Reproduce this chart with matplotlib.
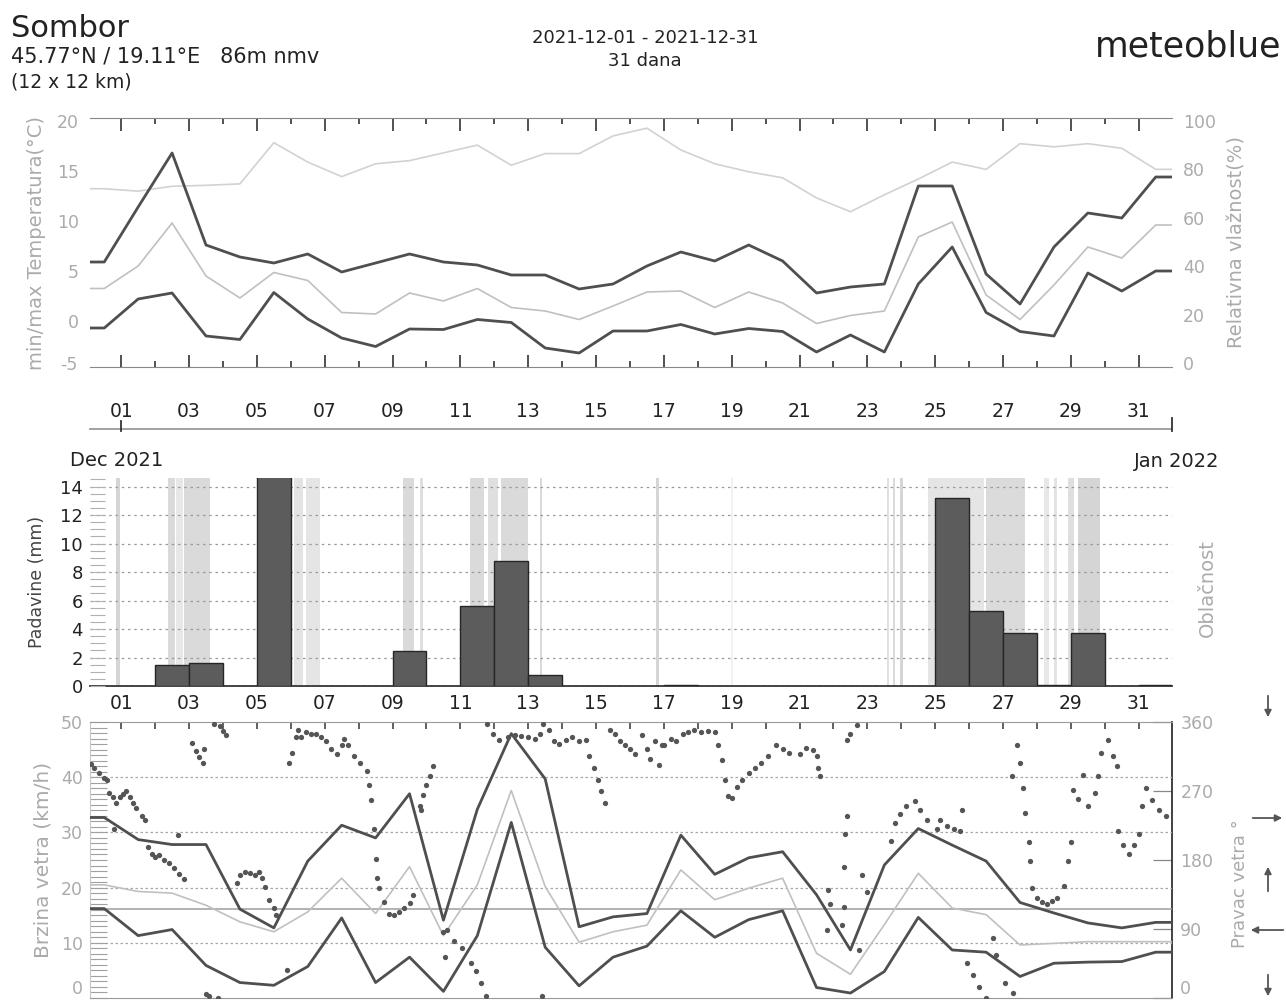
import matplotlib
matplotlib.use('Agg')
import matplotlib.pyplot as plt
import matplotlib.transforms as mtransforms
from matplotlib.lines import Line2D
from matplotlib.patches import FancyArrowPatch
from matplotlib.ticker import MultipleLocator
import numpy as np

# ---------------- data ----------------
day_labels = ['01', '03', '05', '07', '09', '11', '13', '15', '17', '19', '21', '23', '25', '27', '29', '31']
label_days = [1, 3, 5, 7, 9, 11, 13, 15, 17, 19, 21, 23, 25, 27, 29, 31]

# daily values (32 vertices, at day midpoints)
temp_max = [5.9, 11.4, 16.8, 7.6, 6.4, 5.8, 6.7, 4.9, 5.8, 6.7, 5.9, 5.6, 4.6, 4.6, 3.2, 3.7,
            5.5, 6.9, 6.0, 7.6, 6.0, 2.8, 3.4, 3.7, 13.5, 13.5, 4.7, 1.7, 7.4, 10.8, 10.3, 14.4]
temp_min = [-0.7, 2.2, 2.8, -1.5, -1.85, 2.85, 0.2, -1.7, -2.55, -0.8, -0.85, 0.15, -0.15, -2.7, -3.2, -1.0,
            -1.0, -0.35, -1.3, -0.75, -1.05, -3.1, -1.4, -3.1, 3.7, 7.4, 0.85, -1.05, -1.5, 4.8, 3.0, 5.0]
temp_mean = [3.25, 5.5, 9.8, 4.5, 2.3, 4.85, 4.05, 0.85, 0.7, 2.8, 2.0, 3.25, 1.35, 1.0, 0.15, 1.5,
             2.9, 3.0, 1.35, 2.9, 1.8, -0.25, 0.55, 1.0, 8.4, 9.9, 2.6, 0.15, 3.6, 7.4, 6.3, 9.6]
humidity = [72, 71, 73, 73.4, 74, 91, 83, 77, 82.3, 83.6, 86.8, 90, 81.7, 86.5, 86.5, 93.8,
            97, 88, 82.3, 79, 76.5, 68.2, 62.5, 69.5, 76, 83, 80, 90.6, 89.3, 90.6, 88.7, 80]

wind_max = [32.7, 28.7, 27.8, 27.8, 16.1, 12.7, 24.8, 31.3, 29.0, 37.0, 14.1, 34.2, 47.9, 39.7, 12.9, 14.7,
            15.3, 29.5, 22.4, 25.4, 26.5, 18.7, 8.7, 24.1, 30.7, 27.7, 24.8, 17.3, 15.4, 13.6, 12.7, 13.7]
wind_min = [16.2, 11.3, 12.4, 5.9, 2.8, 2.3, 5.7, 14.5, 2.8, 7.4, 1.2, 11.3, 31.8, 9.2, 2.2, 7.4,
            9.4, 15.8, 11.0, 14.2, 15.8, 1.9, 0.9, 4.8, 14.6, 8.7, 8.3, 3.9, 6.3, 6.5, 6.6, 8.3]
wind_mean = [20.5, 19.3, 19.0, 16.8, 13.8, 12.0, 15.6, 21.7, 15.3, 23.8, 11.3, 20.5, 37.6, 20.2, 10.1, 12.0,
             13.2, 23.2, 17.8, 19.9, 21.7, 8.1, 4.3, 13.3, 22.6, 16.3, 15.1, 9.6, 9.9, 10.2, 10.2, 10.2]

# precipitation (day start, mm)
precip_day = [2, 3, 5, 9, 11, 12, 13, 17, 25, 26, 27, 28, 29, 31]
precip_mm = [1.45, 1.64, 16.0, 2.44, 5.62, 8.74, 0.75, 0.08, 13.2, 5.27, 3.75, 0.1, 3.75, 0.08]

# cloud cover bands (start day, end day, intensity)
cloud_start = [0.85, 2.38, 2.62, 2.85, 5.0, 6.1, 6.45, 9.3, 9.82, 11.28, 11.8, 12.2, 13.36, 16.78, 18.98,
               23.58, 23.76, 23.95, 24.8, 26.5, 28.2, 28.5, 28.9, 29.2]
cloud_end = [0.95, 2.6, 2.82, 3.62, 6.05, 6.35, 6.86, 9.62, 9.9, 11.7, 12.1, 12.99, 13.42, 16.86, 19.04,
             23.64, 23.82, 24.05, 26.45, 27.65, 28.35, 28.6, 29.1, 29.86]
cloud_level = [0.45, 0.4, 0.25, 0.4, 0.45, 0.3, 0.28, 0.4, 0.35, 0.4, 0.35, 0.4, 0.4, 0.45, 0.15,
               0.35, 0.4, 0.45, 0.28, 0.38, 0.25, 0.3, 0.35, 0.45]

# wind direction samples (day, degrees)
dir_day = [0.1, 0.2, 0.35, 0.5, 0.58, 0.65, 0.75, 0.8, 0.85, 0.95, 1.05, 1.15, 1.25, 1.35, 1.45, 1.6, 1.7,
           1.78, 1.9, 2.0, 2.1, 2.25, 2.4, 2.55, 2.67, 2.7, 2.85,
           3.1, 3.2, 3.3, 3.4, 3.45, 3.5, 3.6, 3.75, 3.85, 3.9, 4.0, 4.1,
           4.4, 4.5, 4.65, 4.8, 4.95, 5.05, 5.15, 5.25, 5.37, 5.5, 5.57, 5.9,
           5.95, 6.05, 6.15, 6.22, 6.3, 6.45, 6.6, 6.75, 6.9, 7.05, 7.2, 7.35, 7.5, 7.56, 7.7,
           7.86, 8.05, 8.24, 8.3, 8.35, 8.44, 8.5, 8.53,
           8.6, 8.75, 8.9, 9.05, 9.2, 9.35, 9.5, 9.6,
           9.8, 9.85, 9.9, 10.0, 10.1, 10.2, 10.5, 10.55, 10.6, 10.8, 11.05,
           11.3, 11.45, 11.6, 11.75, 11.78, 11.95, 12.15,
           12.4, 12.6, 12.8, 13.0, 13.2, 13.35, 13.4, 13.45, 13.6, 13.75, 13.9, 14.1, 14.3, 14.5, 14.7,
           14.8, 14.95, 15.05, 15.15, 15.27, 15.4, 15.55, 15.7, 15.85, 16.0, 16.15,
           16.35, 16.5, 16.6, 16.75, 16.85, 16.94, 17.0, 17.2, 17.35, 17.55, 17.7, 17.9, 18.1, 18.3, 18.5,
           18.6, 18.7, 18.8, 18.9, 19.0, 19.15, 19.3, 19.5, 19.7, 19.85, 20.07,
           20.3, 20.5, 20.7, 21.0, 21.2, 21.4, 21.5, 21.55, 21.6,
           21.8, 21.85, 21.9, 22.25, 22.3, 22.3, 22.35, 22.4, 22.75, 22.85, 23.0,
           22.4, 22.5, 22.7,
           23.7, 23.8, 23.95, 24.15, 24.4, 24.55, 24.76, 25.06, 25.14, 25.35, 25.55, 25.73, 25.8,
           25.93, 26.1, 26.3, 26.5, 26.7, 26.8, 27.05, 27.3,
           27.25, 27.4, 27.5, 27.6, 27.65, 27.75, 27.8, 27.85, 28.0, 28.15, 28.3, 28.45, 28.6, 28.8, 28.9, 29.0,
           29.05, 29.2, 29.35, 29.5, 29.7, 29.8, 29.9, 30.1, 30.25, 30.35,
           30.4, 30.55, 30.7, 30.85, 31.0, 31.1, 31.2, 31.4, 31.6, 31.8]
dir_deg = [305, 300, 293, 287, 285, 268, 262, 221, 255, 262, 266, 270, 262, 255, 248, 238, 232,
           197, 188, 184, 186, 180, 176, 170, 212, 162, 155,
           333, 322, 315, 307, 325, 5, 2, 358, 0, 355, 348, 343,
           150, 160, 165, 163, 160, 164, 157, 145, 128, 118, 108, 36,
           307, 320, 340, 350, 340, 347, 345, 344, 340, 335, 325, 318, 330, 338, 330,
           316, 306, 296, 278, 258, 221, 181, 157,
           144, 125, 110, 108, 112, 118, 124, 135,
           251, 245, 265, 278, 290, 303, 86, 53, 89, 75, 65,
           46, 35, 20, 3, 358, 345, 337,
           340, 343, 342, 340, 338, 344, 3, 358, 350, 335, 331, 337, 340, 335, 337,
           316, 300, 285, 270, 254, 350, 345, 335, 330, 325, 318,
           343, 325, 312, 335, 304, 330, 330, 338, 335, 345, 347, 350, 347, 348, 347,
           330, 310, 285, 263, 261, 275, 285, 294, 300, 306, 316,
           330, 325, 320, 318, 326, 324, 316, 300, 290,
           89, 141, 122, 95, 119, 171, 214, 238, 62, 161, 138,
           337, 345, 356,
           205, 228, 240, 250, 257, 245, 232, 221, 232, 225, 220, 218, 245,
           46, 30, 15, 0, 78, 56, 20, 7,
           290, 330, 307, 274, 241, 204, 179, 144, 130, 125, 122, 126, 131, 146, 179, 204,
           271, 260, 291, 250, 267, 290, 320, 337, 316, 303,
           218, 200, 188, 200, 214, 250, 274, 258, 245, 237]

# ---------------- layout helpers ----------------
W, H = 1286, 1005
fig = plt.figure(figsize=(W / 100, H / 100), dpi=100)
fig.patch.set_facecolor('white')

XMIN, XMAX = 0.08, 31.98
DARK = '#4f4f4f'
TXT_LIGHT = '#ababab'


def rect(l, t, r, b):
    return [l / W, 1 - b / H, (r - l) / W, (b - t) / H]


def fx(x):
    return x / W


def fy(y):
    return 1 - y / H


mid = np.arange(len(temp_max)) + 0.5


def ext(vals):
    v = np.asarray(vals, dtype=float)
    return np.r_[XMIN, mid, XMAX], np.r_[v[0], v, v[-1]]


odd_days = label_days
even_days = list(range(2, 32, 2))

# ---------------- header ----------------
fig.text(fx(11), fy(37), 'Sombor', fontsize=22, color='#222222', va='baseline')
fig.text(fx(11), fy(62), '45.77°N / 19.11°E   86m nmv', fontsize=15, color='#222222', va='baseline')
fig.text(fx(11), fy(87), '(12 x 12 km)', fontsize=13.5, color='#222222', va='baseline')
fig.text(fx(645), fy(43), '2021-12-01 - 2021-12-31', fontsize=13, color='#222222', ha='center', va='baseline')
fig.text(fx(645), fy(66), '31 dana', fontsize=13, color='#222222', ha='center', va='baseline')
fig.text(fx(1281), fy(56), 'meteoblue', fontsize=25, color='#222222', ha='right', va='baseline')

# ---------------- top panel: temperature & humidity ----------------
ax1 = fig.add_axes(rect(90, 118, 1172, 367))
axh = ax1.twinx()
ax1.set_zorder(2)
ax1.patch.set_visible(False)

x, y = ext(humidity)
axh.plot(x, y, color='#d2d2d2', lw=1.2)
x, y = ext(temp_mean)
ax1.plot(x, y, color='#c0c0c0', lw=1.2)
x, y = ext(temp_max)
ax1.plot(x, y, color=DARK, lw=2.0)
x, y = ext(temp_min)
ax1.plot(x, y, color=DARK, lw=2.0)

ax1.set_xlim(XMIN, XMAX)
ax1.set_ylim(-4.6, 20.3)
axh.set_ylim(-1.6, 101.2)
ax1.set_yticks([0, 5, 10, 15, 20])
axh.set_yticks([0, 20, 40, 60, 80, 100])
ax1.tick_params(axis='y', length=0, labelsize=12.5, labelcolor=TXT_LIGHT, pad=8)
axh.tick_params(axis='y', length=0, labelsize=12.5, labelcolor=TXT_LIGHT, pad=8)
ax1.text(-0.012, -4.4, '-5', transform=mtransforms.blended_transform_factory(ax1.transAxes, ax1.transData),
         ha='right', va='center', fontsize=12.5, color=TXT_LIGHT)
ax1.set_xticks(odd_days)
ax1.set_xticklabels(day_labels)
ax1.set_xticks(even_days, minor=True)
ax1.tick_params(axis='x', which='major', direction='in', top=True, bottom=True, length=9, width=1.2,
                color='#333333', labelsize=13.5, labelcolor='#222222', pad=25)
ax1.tick_params(axis='x', which='minor', direction='in', top=True, bottom=True, length=4, width=1.2,
                color='#333333')
for a in (ax1, axh):
    a.spines['left'].set_visible(False)
    a.spines['right'].set_visible(False)
    a.spines['top'].set_color('#888888')
    a.spines['bottom'].set_color('#888888')
axh.spines['top'].set_visible(False)
axh.spines['bottom'].set_visible(False)
ax1.set_ylabel('min/max Temperatura(°C)', color=TXT_LIGHT, fontsize=14, labelpad=8)
axh.set_ylabel('Relativna vlažnost(%)', color=TXT_LIGHT, fontsize=14, labelpad=8)

# separator with ticks under the top panel
tr = mtransforms.blended_transform_factory(ax1.transData, fig.transFigure)
fig.add_artist(Line2D([XMIN, XMAX], [fy(429), fy(429)], transform=tr, color='#9a9a9a', lw=1.3))
fig.add_artist(Line2D([1, 1], [fy(421), fy(431)], transform=tr, color='#333333', lw=1.3))
fig.add_artist(Line2D([XMAX, XMAX], [fy(418), fy(431)], transform=tr, color='#333333', lw=1.3))

# ---------------- middle panel: precipitation & cloud ----------------
ax2 = fig.add_axes(rect(90, 478, 1172, 686))
for s, e, lv in zip(cloud_start, cloud_end, cloud_level):
    ax2.axvspan(s, e, color='#8c8c8c', alpha=lv * 0.8, lw=0, zorder=1)
ax2.bar(precip_day, precip_mm, width=1.0, align='edge', color='#5c5c5c', edgecolor='#262626',
        lw=1.0, zorder=3)
ax2.set_xlim(XMIN, XMAX)
ax2.set_ylim(0, 14.6)
ax2.set_yticks(range(0, 15, 2))
ax2.yaxis.set_minor_locator(MultipleLocator(0.5))
ax2.grid(axis='y', which='major', color='#9a9a9a', ls=(0, (2, 3)), lw=0.9, zorder=2)
ax2.set_axisbelow(False)
ax2.tick_params(axis='y', which='both', direction='in', length=11, width=0.8, color='#b0b0b0',
                labelsize=13, labelcolor='#222222', pad=5)
ax2.set_xticks(odd_days)
ax2.set_xticklabels(day_labels)
ax2.tick_params(axis='x', length=0, labelsize=13.5, labelcolor='#222222', pad=6)
for sp in ('left', 'right', 'top'):
    ax2.spines[sp].set_visible(False)
ax2.spines['bottom'].set_color('#333333')
ax2.spines['bottom'].set_linewidth(1.3)
ax2.set_ylabel('Padavine (mm)', color='#444444', fontsize=12.5, labelpad=10)
fig.text(fx(1207), fy(588), 'Oblačnost', rotation=90, color=TXT_LIGHT, fontsize=14, ha='center', va='center')
fig.text(fx(70), fy(466), 'Dec 2021', fontsize=14, color='#222222', va='baseline')
fig.text(fx(1219), fy(467), 'Jan 2022', fontsize=14, color='#222222', va='baseline', ha='right')

# ---------------- bottom panel: wind ----------------
ax3 = fig.add_axes(rect(90, 722, 1172, 998))
axd = ax3.twinx()
ax3.set_zorder(2)
ax3.patch.set_visible(False)
for v in (10, 20, 30, 40):
    ax3.axhline(v, color='#a8a8a8', lw=0.9, ls=(0, (2, 2)), zorder=1)
ax3.axhline(16.1, color='#9c9c9c', lw=1.1, zorder=1)
x, y = ext(wind_mean)
ax3.plot(x, y, color='#c0c0c0', lw=1.2, zorder=3)
x, y = ext(wind_max)
ax3.plot(x, y, color=DARK, lw=2.0, zorder=4)
x, y = ext(wind_min)
ax3.plot(x, y, color=DARK, lw=2.0, zorder=4)
ax3.plot(dir_day, np.asarray(dir_deg) * 50.0 / 360.0, ls='none', marker='o', ms=3.8,
         color='#555555', mec='none', zorder=5)
ax3.set_xlim(XMIN, XMAX)
ax3.set_ylim(0, 50)
axd.set_ylim(0, 360)
ax3.set_yticks([0, 10, 20, 30, 40, 50])
ax3.yaxis.set_minor_locator(MultipleLocator(1))
ax3.tick_params(axis='y', which='both', direction='in', length=12, width=0.8, color='#a0a0a0',
                labelsize=12.5, labelcolor=TXT_LIGHT, pad=5)
axd.set_yticks([0, 90, 180, 270, 360])
axd.tick_params(axis='y', direction='in', length=14, width=0.9, color='#888888',
                labelsize=12.5, labelcolor=TXT_LIGHT, pad=6)
ax3.yaxis.get_majorticklabels()[0].set_va('bottom')
axd.yaxis.get_majorticklabels()[0].set_va('bottom')
ax3.set_xticks(odd_days + even_days)
ax3.set_xticklabels([])
ax3.tick_params(axis='x', direction='in', top=True, bottom=False, length=5, width=1.2, color='#444444')
ax3.spines['left'].set_color('#c8c8c8')
ax3.spines['top'].set_color('#999999')
ax3.spines['bottom'].set_color('#999999')
ax3.spines['right'].set_visible(False)
axd.spines['left'].set_visible(False)
axd.spines['top'].set_visible(False)
axd.spines['bottom'].set_visible(False)
axd.spines['right'].set_color('#333333')
axd.spines['right'].set_linewidth(1.3)
ax3.set_ylabel('Brzina vetra (km/h)', color=TXT_LIGHT, fontsize=14.5, labelpad=6)
fig.text(fx(1240), fy(884), 'Pravac vetra °', rotation=90, color=TXT_LIGHT, fontsize=13,
         ha='center', va='center')

# direction arrows on the right
arr = dict(arrowstyle='-|>', color='#555555', lw=1.3, mutation_scale=10)
fig.add_artist(FancyArrowPatch((fx(1268), fy(693)), (fx(1268), fy(720)), transform=fig.transFigure, **arr))
fig.add_artist(FancyArrowPatch((fx(1250), fy(818)), (fx(1285), fy(818)), transform=fig.transFigure, **arr))
fig.add_artist(FancyArrowPatch((fx(1268), fy(894)), (fx(1268), fy(864)), transform=fig.transFigure, **arr))
fig.add_artist(FancyArrowPatch((fx(1286), fy(930)), (fx(1248), fy(930)), transform=fig.transFigure, **arr))
fig.add_artist(FancyArrowPatch((fx(1268), fy(972)), (fx(1268), fy(999)), transform=fig.transFigure, **arr))

fig.savefig('out.png', dpi=100, facecolor='white')
